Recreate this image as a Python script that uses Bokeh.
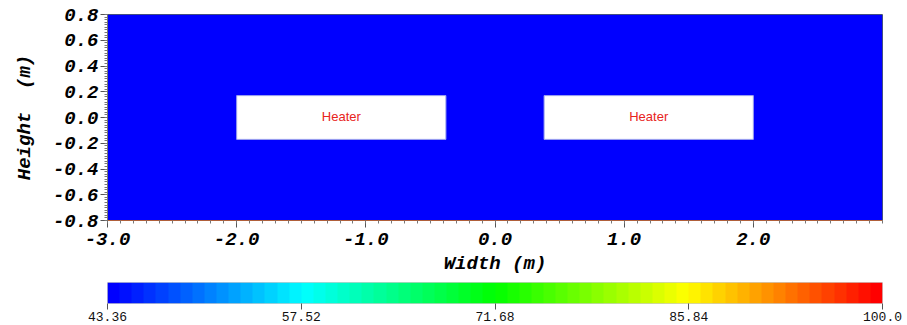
import numpy as np
from bokeh.plotting import figure
from bokeh.layouts import column
from bokeh.models import (LinearColorMapper, FixedTicker, NumeralTickFormatter,
                          ColumnDataSource, Range1d)
from bokeh.embed import file_html
from bokeh.resources import INLINE
from bokeh.core.properties import value

# ---- data ----
x_min, x_max = -3.0, 3.0
y_min, y_max = -0.8, 0.8
temp_min, temp_max = 43.36, 100.0
temperature_field = [[43.36, 43.36, 43.36],
                     [43.36, 43.36, 43.36]]
heater_left = [-2.0, 0.38]
heater_right = [-0.38, 2.0]
heater_bottom = [-0.17, -0.17]
heater_top = [0.17, 0.17]
heater_labels = ["Heater", "Heater"]
x_ticks = [-3.0, -2.0, -1.0, 0.0, 1.0, 2.0]
y_ticks = [-0.8, -0.6, -0.4, -0.2, 0.0, 0.2, 0.4, 0.6, 0.8]
cbar_ticks = [43.36, 57.52, 71.68, 85.84, 100.0]
cbar_labels = ["43.36", "57.52", "71.68", "85.84", "100.0"]

# jet-like stepped palette
anchors = [(0, 0, 255), (0, 255, 255), (0, 255, 0), (255, 255, 0), (255, 0, 0)]
N = 64
palette = []
for i in range(N):
    t = i / (N - 1) * (len(anchors) - 1)
    k = min(int(t), len(anchors) - 2)
    f = t - k
    c = [int(round(anchors[k][j] + (anchors[k + 1][j] - anchors[k][j]) * f)) for j in range(3)]
    palette.append("#%02x%02x%02x" % tuple(c))
mapper = LinearColorMapper(palette=palette, low=temp_min, high=temp_max)

MONO = "Liberation Mono"

p = figure(width=907, height=277, output_backend="svg", toolbar_location=None,
           x_range=Range1d(x_min, x_max), y_range=Range1d(y_min, y_max),
           min_border_left=107, min_border_right=25, min_border_top=14, min_border_bottom=10)
p.grid.visible = False
p.background_fill_color = "white"
p.outline_line_color = "#5a6a5a"

p.image(image=[np.array(temperature_field)], x=x_min, y=y_min, dw=x_max - x_min, dh=y_max - y_min,
        color_mapper=mapper)

src = ColumnDataSource(dict(left=heater_left, right=heater_right, bottom=heater_bottom,
                            top=heater_top, label=heater_labels,
                            cx=[(a + b) / 2 for a, b in zip(heater_left, heater_right)],
                            cy=[(a + b) / 2 for a, b in zip(heater_bottom, heater_top)]))
p.quad(left="left", right="right", bottom="bottom", top="top", source=src,
       fill_color="white", line_color="#9aa0ee", line_width=1)
p.text(x="cx", y="cy", text="label", source=src, text_color="#e8241c",
       text_font=value("Liberation Sans"), text_font_size="13px",
       text_align="center", text_baseline="middle", y_offset=-1)

for ax in (p.xaxis[0], p.yaxis[0]):
    ax.major_label_text_font = MONO
    ax.major_label_text_font_style = "bold italic"
    ax.major_label_text_font_size = "19px"
    ax.major_label_text_color = "black"
    ax.axis_label_text_font = MONO
    ax.axis_label_text_font_style = "bold italic"
    ax.axis_label_text_font_size = "19px"
    ax.axis_label_text_color = "black"
    ax.major_tick_line_color = "#555555"
    ax.minor_tick_line_color = "#777777"
    ax.major_tick_out = 7
    ax.major_tick_in = 0
    ax.minor_tick_out = 3
    ax.minor_tick_in = 0
    ax.formatter = NumeralTickFormatter(format="0.0")

p.xaxis.ticker = FixedTicker(ticks=x_ticks,
                             minor_ticks=[round(-3.0 + 0.1 * i, 2) for i in range(61)])
p.yaxis.ticker = FixedTicker(ticks=y_ticks,
                             minor_ticks=[round(-0.8 + 0.02 * i, 3) for i in range(81)])
p.xaxis.axis_label = "Width (m)"
p.yaxis.axis_label = "Height\u00a0\u00a0(m)"
p.xaxis.axis_line_color = "#b0603a"
p.yaxis.axis_line_color = "#777777"
p.xaxis.major_label_standoff = 5
p.yaxis.major_label_standoff = 2
p.xaxis.axis_label_standoff = 5
p.yaxis.axis_label_standoff = 14

# ---- colorbar ----
cb = figure(width=907, height=48, output_backend="svg", toolbar_location=None,
            x_range=Range1d(temp_min, temp_max), y_range=Range1d(0, 1),
            min_border_left=107, min_border_right=21, min_border_top=5, min_border_bottom=22)
cb.grid.visible = False
cb.yaxis.visible = False
cb.outline_line_color = "#cccccc"
cb.image(image=[np.linspace(temp_min, temp_max, N).reshape(1, N)], x=temp_min, y=0,
         dw=temp_max - temp_min, dh=1, color_mapper=mapper)
cb.xaxis.ticker = FixedTicker(ticks=cbar_ticks, minor_ticks=[])
cb.xaxis.major_label_overrides = {t: l for t, l in zip(cbar_ticks, cbar_labels)}
cb.xaxis.major_label_text_font = MONO
cb.xaxis.major_label_text_font_size = "13px"
cb.xaxis.major_label_text_color = "#111111"
cb.xaxis.axis_line_color = None
cb.xaxis.major_tick_line_color = "#555555"
cb.xaxis.major_tick_out = 6
cb.xaxis.major_tick_in = 0
cb.xaxis.major_label_standoff = 2

layout = column(p, cb, spacing=0)
open("out.html", "w").write(file_html(layout, INLINE))
